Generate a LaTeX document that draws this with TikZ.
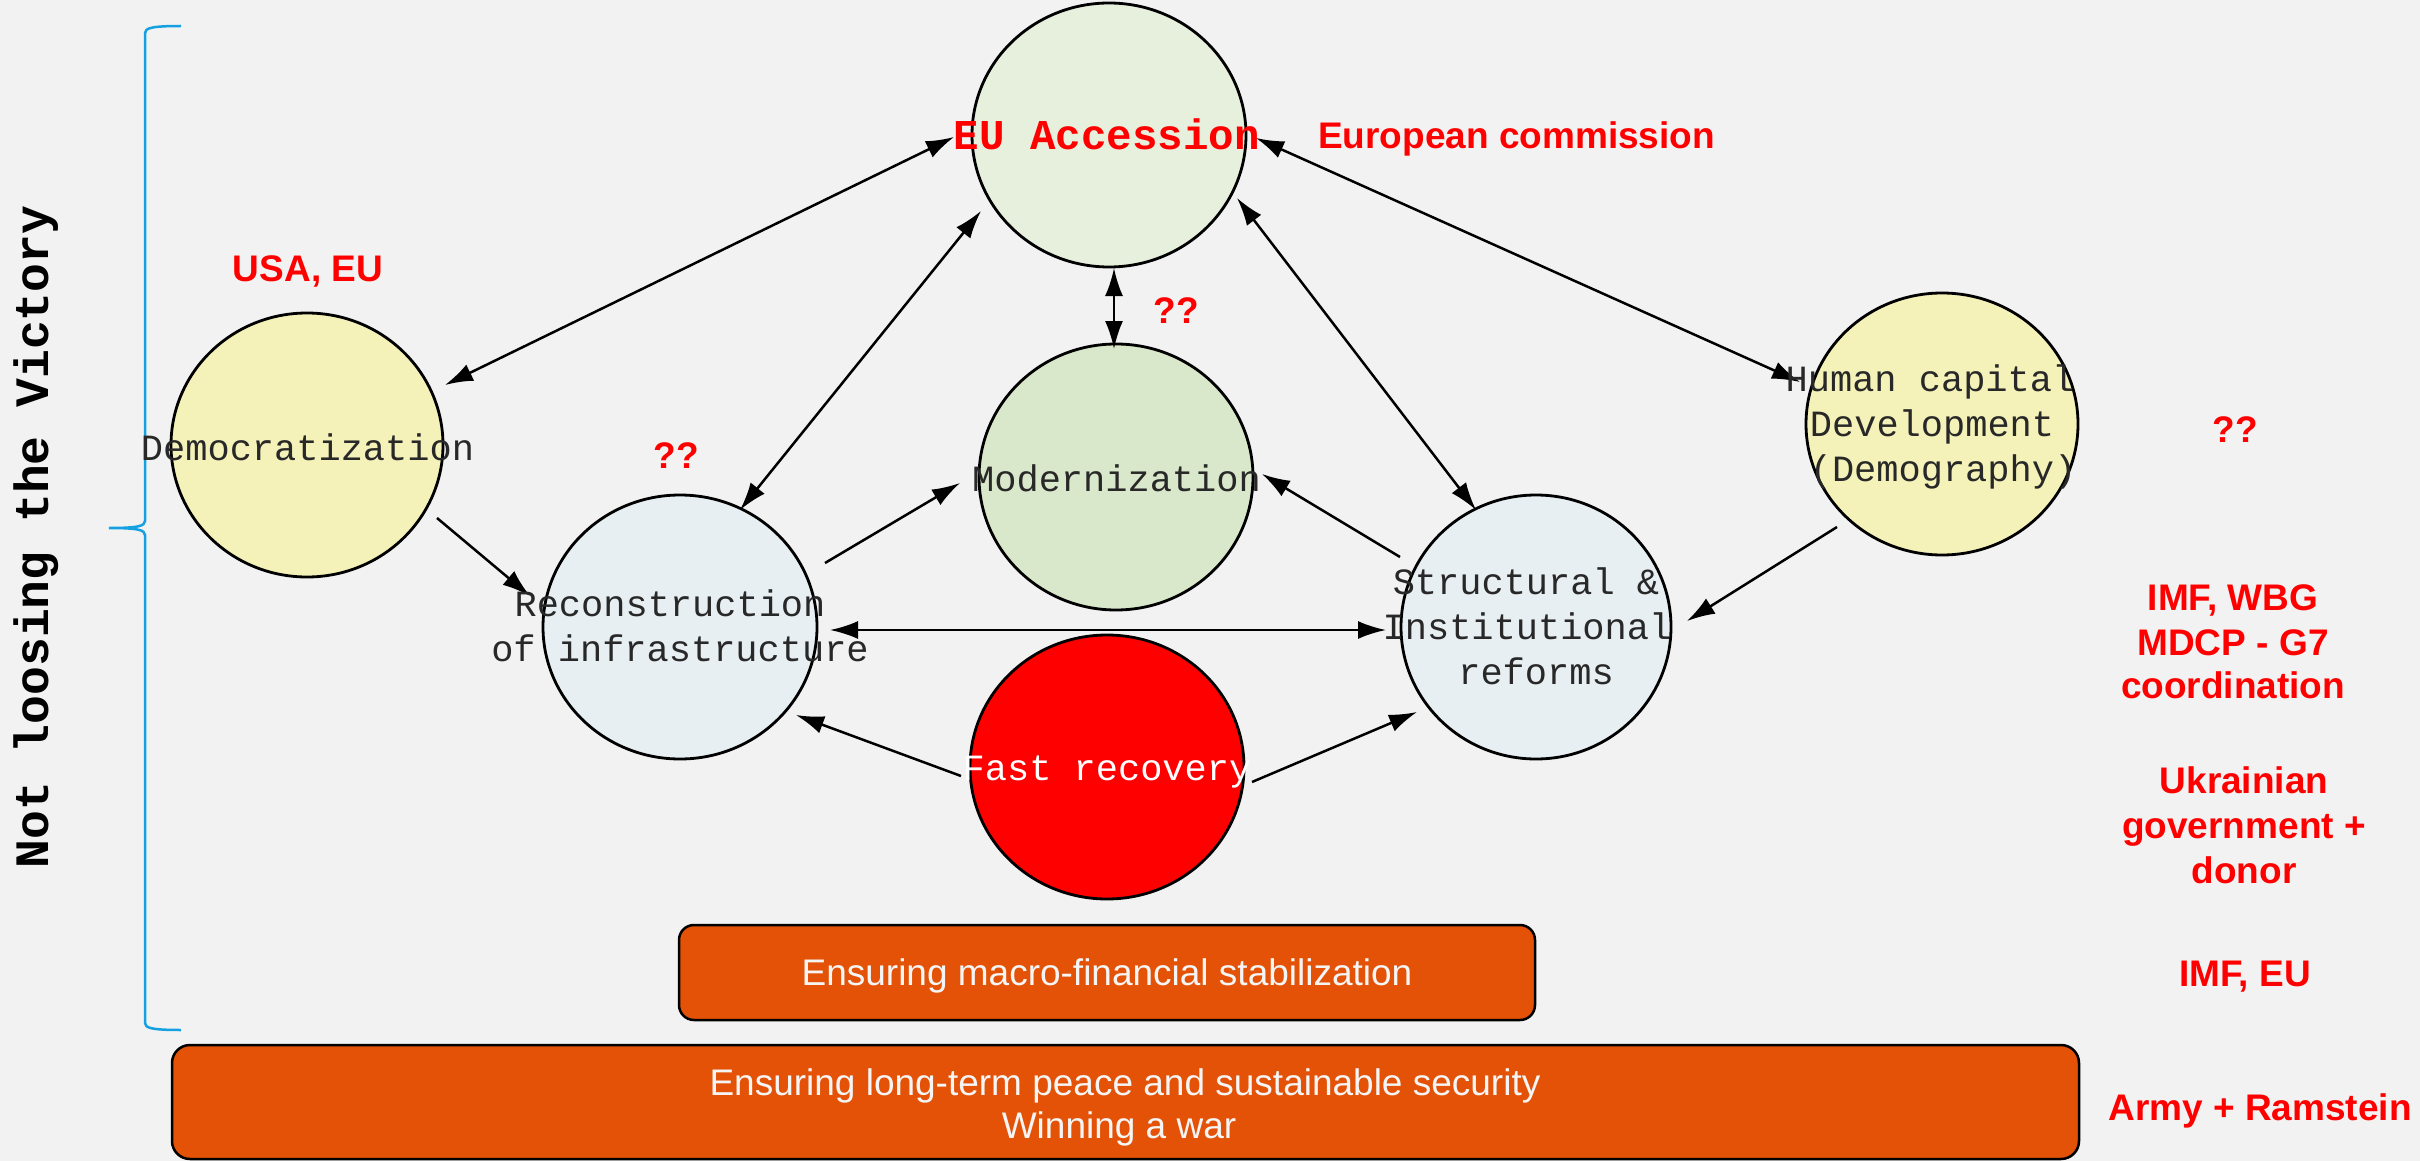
\documentclass[tikz,border=0pt]{standalone}
\usepackage{fontspec}
\setmainfont{Liberation Sans}
\newfontfamily\mono{Liberation Mono}
\usetikzlibrary{arrows.meta,calc,shapes.geometric}
\definecolor{bg}{RGB}{242,242,242}
\definecolor{eugreen}{RGB}{231,240,221}
\definecolor{modgreen}{RGB}{217,231,202}
\definecolor{paleyel}{RGB}{244,242,184}
\definecolor{paleblue}{RGB}{232,239,243}
\definecolor{orng}{RGB}{227,82,6}
\definecolor{bracecol}{RGB}{20,160,225}
\definecolor{lbl}{RGB}{255,0,0}
\definecolor{txt}{RGB}{40,40,40}
\definecolor{boxtxt}{RGB}{245,245,245}
\tikzset{
  circ/.style={ellipse, draw=black, line width=2.8pt, minimum width=274pt, minimum height=264pt, inner sep=0pt},
  mtext/.style={font=\mono\fontsize{37}{45}\selectfont, text=txt, inner sep=0pt, anchor=base},
  redlbl/.style={font=\bfseries\fontsize{37}{44}\selectfont, text=lbl, inner sep=0pt, anchor=base},
  obox/.style={draw=black, line width=2.5pt, fill=orng, rectangle, inner sep=0pt},
  btext/.style={font=\fontsize{37}{43}\selectfont, text=boxtxt, inner sep=0pt, anchor=base},
  arr/.style={line width=2.5pt, -{Latex[length=28pt,width=18pt]}},
  biarr/.style={line width=2.5pt, {Latex[length=28pt,width=18pt]}-{Latex[length=28pt,width=18pt]}}
}
\begin{document}
\begin{tikzpicture}[x=1pt,y=-1pt]
\fill[bg] (0,0) rectangle (2420,1161);
\useasboundingbox (0,0) rectangle (2420,1161);

% brace and vertical title
\draw[bracecol, line width=2.5pt] (181,26) .. controls (152,26) and (145,28) .. (145,33) -- (145,521) .. controls (145,526) and (138,528) .. (109,528) .. controls (138,528) and (145,530) .. (145,535) -- (145,1023) .. controls (145,1028) and (152,1030) .. (181,1030);
\node[font=\mono\bfseries\fontsize{48}{56}\selectfont, rotate=90, inner sep=0pt] (title) at (36,537) {Not loosing the Victory};

% ellipses
\node[circ, fill=eugreen] (eu) at (1109,135) {};
\node[circ, fill=paleyel, minimum width=272pt] (dem) at (307,445) {};
\node[circ, fill=paleblue] (rec) at (680,627) {};
\node[circ, fill=modgreen, minimum height=266pt] (mod) at (1116,477) {};
\node[circ, fill=paleblue, minimum width=270pt] (str) at (1536,627) {};
\node[circ, fill=paleyel, minimum width=272pt, minimum height=262pt] (hum) at (1942,424) {};
\node[circ, fill=red] (fast) at (1107,767) {};

% boxes
\node[obox, rounded corners=15pt, minimum width=856pt, minimum height=95pt] (macro) at (1107,972.5) {};
\node[obox, rounded corners=18pt, minimum width=1907pt, minimum height=114pt] (peace) at (1125.5,1102) {};

% connectors
\draw[biarr] ($(eu)+(-155,2)$) -- ($(dem)+(138,-60)$);
\draw[biarr] ($(eu)+(-128,76)$) -- ($(rec)+(60,-117)$);
\draw[biarr] ($(eu)+(5,133)$) -- ($(mod)+(-2,-128)$);
\draw[biarr] ($(eu)+(128,63)$) -- ($(str)+(-60,-117)$);
\draw[biarr] ($(eu)+(147,3)$) -- ($(hum)+(-142,-42)$);
\draw[arr] ($(dem)+(130,73)$) -- ($(rec)+(-150,-31)$);
\draw[arr] ($(rec)+(145,-64)$) -- ($(mod)+(-156,6)$);
\draw[arr] ($(str)+(-136,-70)$) -- ($(mod)+(146,-3)$);
\draw[biarr] ($(rec)+(150,3)$) -- ($(str)+(-150,3)$);
\draw[arr] ($(hum)+(-105,103)$) -- ($(str)+(151,-6)$);
\draw[arr] ($(fast)+(-146,9)$) -- ($(rec)+(116,88)$);
\draw[arr] ($(fast)+(145,15)$) -- ($(str)+(-119,85)$);

% ellipse texts
\node[mtext, font=\mono\bfseries\fontsize{42.5}{50}\selectfont, text=lbl] (eut) at (1107,150) {EU Accession};
\node[mtext] (demt) at (307.5,460) {Democratization};
\node[mtext] (rect1) at (670,616) {Reconstruction};
\node[mtext] (rect2) at (680,661) {of infrastructure};
\node[mtext] (modt) at (1116.5,491) {Modernization};
\node[mtext] (strt1) at (1526,594) {Structural \&};
\node[mtext] (strt2) at (1527,639) {Institutional};
\node[mtext] (strt3) at (1536,684) {reforms};
\node[mtext] (humt1) at (1930,391) {Human capital};
\node[mtext] (humt2) at (1932,436) {Development};
\node[mtext] (humt3) at (1943,481) {(Demography)};
\node[mtext, text=white] (fastt) at (1107,780) {Fast recovery};

% box texts
\node[btext] (macrot) at (1107,985) {Ensuring macro-financial stabilization};
\node[btext] (peacet1) at (1125,1095) {Ensuring long-term peace and sustainable security};
\node[btext] (peacet2) at (1119,1138) {Winning a war};

% red labels
\node[redlbl] (usa) at (308,281) {USA, EU};
\node[redlbl, anchor=base west] (ec) at (1318,149) {European commission};
\node[redlbl] (q1) at (1176,323) {??};
\node[redlbl] (q2) at (676,468) {??};
\node[redlbl] (q3) at (2235,442) {??};
\node[redlbl] (imf1) at (2233,610) {IMF, WBG};
\node[redlbl] (imf2) at (2233,655) {MDCP - G7};
\node[redlbl] (imf3) at (2233,698) {coordination};
\node[redlbl] (ua1) at (2244,793) {Ukrainian};
\node[redlbl] (ua2) at (2244,838) {government +};
\node[redlbl] (ua3) at (2244,883) {donor};
\node[redlbl] (imfeu) at (2245,986) {IMF, EU};
\node[redlbl] (army) at (2260,1120) {Army + Ramstein};
\end{tikzpicture}
\end{document}
